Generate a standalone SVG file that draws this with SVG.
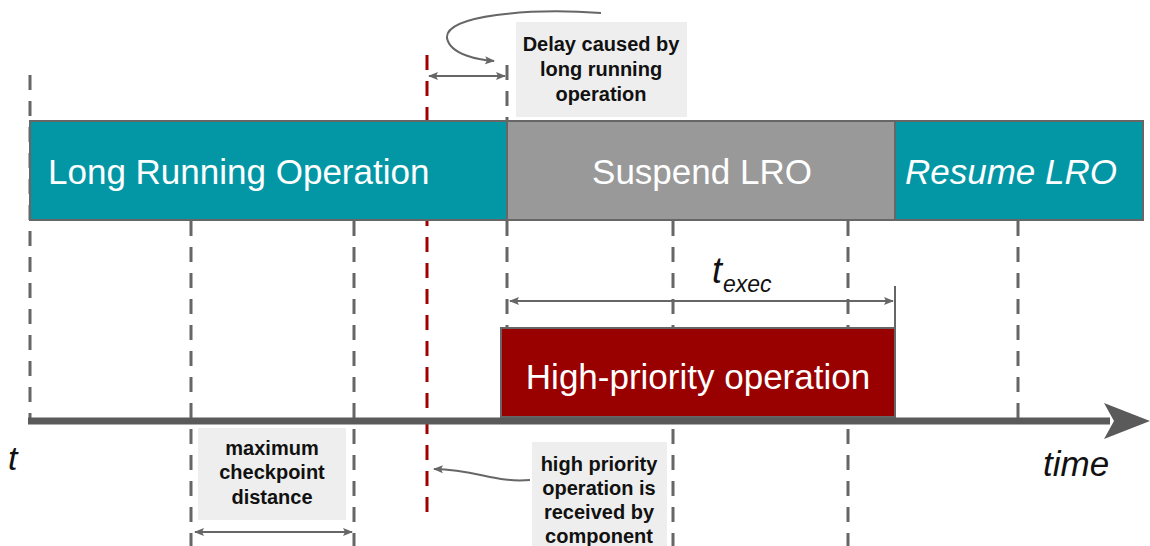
<svg xmlns="http://www.w3.org/2000/svg" width="1150" height="546" viewBox="0 0 1150 546">
<style>
.dash{stroke:#666;stroke-width:3;stroke-dasharray:15 11;fill:none}
.rdash{stroke:#a00000;stroke-width:3;stroke-dasharray:15 11;fill:none}
.arr{stroke:#666;stroke-width:2;fill:none}
.big{font-family:"Liberation Sans",Arial,sans-serif;font-size:35px;fill:#fff}
.lbl{font-family:"Liberation Sans",Arial,sans-serif;font-size:20px;font-weight:bold;fill:#111;text-anchor:middle}
.it{font-family:"Liberation Sans",Arial,sans-serif;font-style:italic;fill:#111}
.note{fill:#eeeeee}
</style>
<defs>
<marker id="ah" viewBox="0 0 10 10" refX="9" refY="5" markerWidth="10" markerHeight="10" markerUnits="userSpaceOnUse" orient="auto-start-reverse">
<path d="M0,1 L10,5 L0,9 L2,5 Z" fill="#666"/>
</marker>
</defs>
<rect width="1150" height="546" fill="#fff"/>
<g id="guides">
<line class="dash" x1="30" y1="75" x2="30" y2="420"/>
<line class="dash" x1="191" y1="221" x2="191" y2="546"/>
<line class="dash" x1="354" y1="221" x2="354" y2="546"/>
<line class="dash" x1="507" y1="65" x2="507" y2="330"/>
<line class="dash" x1="673" y1="221" x2="673" y2="546"/>
<line class="dash" x1="848" y1="221" x2="848" y2="546"/>
<line class="dash" x1="1018" y1="221" x2="1018" y2="420"/>
<line class="rdash" x1="427" y1="55" x2="427" y2="512"/>
</g>
<g id="lro">
<rect x="30" y="121" width="477" height="99" fill="#0397a6" stroke="#666" stroke-width="2"/>
<text class="big" x="48" y="184">Long Running Operation</text>
</g>
<g id="suspend">
<rect x="507" y="121" width="388" height="99" fill="#999" stroke="#666" stroke-width="2"/>
<text class="big" x="702" y="184" text-anchor="middle">Suspend LRO</text>
</g>
<g id="resume">
<rect x="895" y="121" width="248" height="99" fill="#0397a6" stroke="#666" stroke-width="2"/>
<text class="big" x="905" y="184" font-style="italic">Resume LRO</text>
</g>
<g id="hpo">
<rect x="501" y="328" width="394" height="89" fill="#990000" stroke="#666" stroke-width="2"/>
<text class="big" x="698" y="389" text-anchor="middle">High-priority operation</text>
</g>
<g id="axis">
<line x1="28" y1="421" x2="1110" y2="421" stroke="#5a5a5a" stroke-width="7"/>
<path d="M1104,403 L1150,421 L1104,439 L1114,421 Z" fill="#5a5a5a"/>
<text class="it" x="8" y="470" font-size="34">t</text>
<text class="it" x="1043" y="476" font-size="35">time</text>
</g>
<g id="texec">
<line x1="895" y1="286" x2="895" y2="328" stroke="#666" stroke-width="2"/>
<text class="it" x="712" y="283" font-size="36">t</text>
<text class="it" x="723" y="292" font-size="23">exec</text>
</g>
<g id="delay-note">
<rect class="note" x="516" y="22" width="171" height="95"/>
<text class="lbl"><tspan x="601" y="51">Delay caused by</tspan><tspan x="601" y="76">long running</tspan><tspan x="601" y="101">operation</tspan></text>
</g>
<g id="checkpoint-note">
<rect class="note" x="198" y="428" width="148" height="92"/>
<text class="lbl"><tspan x="272" y="455">maximum</tspan><tspan x="272" y="479">checkpoint</tspan><tspan x="272" y="504">distance</tspan></text>
</g>
<g id="received-note">
<rect class="note" x="532" y="442" width="135" height="104"/>
<text class="lbl"><tspan x="599" y="471">high priority</tspan><tspan x="599" y="495">operation is</tspan><tspan x="599" y="519">received by</tspan><tspan x="599" y="543">component</tspan></text>
</g>
<g id="connectors">
<line class="arr" x1="429" y1="76" x2="505" y2="76" marker-start="url(#ah)" marker-end="url(#ah)"/>
<line class="arr" x1="510" y1="301" x2="893" y2="301" marker-start="url(#ah)" marker-end="url(#ah)"/>
<line class="arr" x1="195" y1="532" x2="352" y2="532" marker-start="url(#ah)" marker-end="url(#ah)"/>
<path class="arr" d="M601,13 C530,8 445,15 447,38 C450,55 480,60 494,61" marker-end="url(#ah)"/>
<path class="arr" d="M530,480 C495,483 478,470 434,469" marker-end="url(#ah)"/>
</g>
</svg>
